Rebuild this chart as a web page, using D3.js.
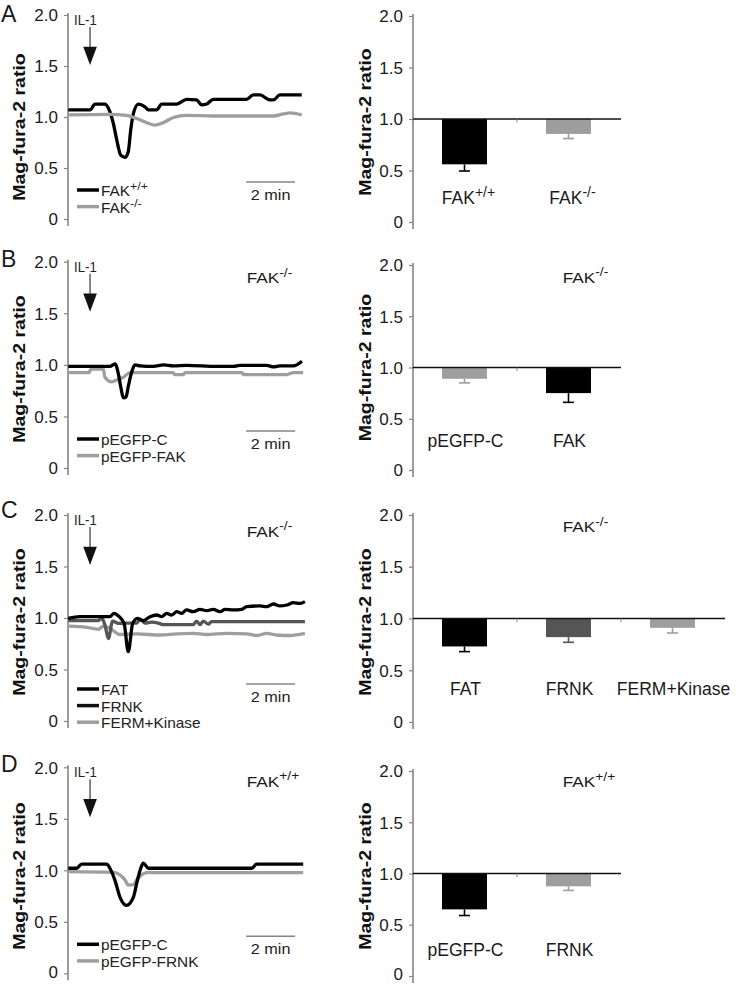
<!DOCTYPE html>
<html><head><meta charset="utf-8">
<script src="https://cdn.jsdelivr.net/npm/d3@7/dist/d3.min.js"></script>
<style>
body{margin:0;background:#fff}
svg{display:block}
</style>
</head><body>
<svg id="c" width="745" height="984"></svg>
<script>
// ================= DATA =================
const panelLetters = ["A", "B", "C", "D"];
const yTickValues = [0, 0.5, 1.0, 1.5, 2.0];
const yTickLabels = ["0", "0.5", "1.0", "1.5", "2.0"];
const yTitle = "Mag-fura-2 ratio";
const stimLabel = "IL-1";
const stimTime = 0.9;            // minutes
const scaleBarLabel = "2 min";
const scaleBarMinutes = [7.27, 9.27];
const genotypeNotes = [null, "FAK^-/-", "FAK^-/-", "FAK^+/+"];

// ---- Panel A traces (time in min, ratio)
const aWtTime  = [0.01,0.9,1.1,1.51,1.71,1.85,1.99,2.15,2.33,2.46,2.56,2.67,2.87,3.14,3.28,3.62,3.82,4.44,4.84,5.25,5.46,5.66,5.93,7.29,7.56,7.84,8.24,8.38,8.65,9.54];
const aWtRatio = [1.07,1.07,1.127,1.127,1.052,0.938,0.775,0.627,0.605,0.66,0.873,1.036,1.127,1.10,1.07,1.07,1.127,1.127,1.173,1.167,1.118,1.127,1.173,1.173,1.216,1.216,1.167,1.167,1.216,1.216];
const aKoTime  = [0.01,1.71,2.39,2.8,3.21,3.55,3.89,4.3,4.84,5.93,8.38,8.79,9.06,9.54];
const aKoRatio = [1.02,1.025,1.015,0.985,0.945,0.92,0.945,0.995,1.015,1.01,1.01,1.03,1.04,1.02];

// ---- Panel B traces
const bCTime  = [0.01,1.71,1.92,2.05,2.15,2.26,2.37,2.46,2.6,2.73,2.94,3.48,3.9,4.3,4.84,6.07,6.75,7.02,8.1,8.4,8.65,9.2,9.55];
const bCRatio = [0.985,0.985,1.01,0.92,0.79,0.68,0.69,0.79,0.93,1.0,0.99,0.985,1.0,0.99,0.995,0.985,0.985,0.995,0.995,0.98,0.99,0.99,1.035];
const bFakTime  = [0.01,0.85,0.95,1.44,1.51,1.78,2.05,2.26,2.53,4.3,4.35,4.71,4.78,7.1,7.16,8.93,9.2,9.6];
const bFakRatio = [0.925,0.925,0.96,0.96,0.88,0.835,0.86,0.88,0.925,0.925,0.906,0.906,0.925,0.925,0.906,0.906,0.925,0.925];

// ---- Panel C traces
const cFatTime  = [0.01,0.49,1.71,1.88,2.09,2.29,2.46,2.64,2.83,3.07,3.35,3.62,3.82,4.03,4.23,4.44,4.64,4.84,5.11,5.39,5.66,5.93,6.2,6.41,6.75,7.09,7.29,7.84,8.11,8.38,8.65,8.93,9.2,9.47,9.67];
const cFatRatio = [0.997,1.013,1.013,1.045,1.013,0.948,0.673,0.948,0.997,0.974,1.013,1.029,1.013,1.045,1.029,1.061,1.045,1.078,1.061,1.084,1.071,1.084,1.061,1.084,1.078,1.084,1.11,1.117,1.11,1.136,1.117,1.126,1.149,1.142,1.159];
const cFrnkTime  = [0.01,1.24,1.37,1.51,1.65,1.82,2.06,2.39,2.8,2.94,3.14,3.42,3.69,3.9,5.11,5.25,5.39,5.52,5.73,5.86,6.07,9.67];
const cFrnkRatio = [0.974,0.974,1.0,0.93,0.80,0.97,0.948,0.95,0.95,0.987,0.95,0.96,0.95,0.935,0.935,0.97,0.935,0.97,0.94,0.965,0.965,0.965];
const cFermTime  = [0.01,0.76,1.24,1.44,1.71,2.12,2.8,3.76,4.44,5.11,5.66,6.48,7.29,7.7,8.11,8.52,9.06,9.67];
const cFermRatio = [0.922,0.91,0.89,0.92,0.90,0.84,0.845,0.835,0.845,0.85,0.84,0.85,0.845,0.83,0.85,0.835,0.83,0.85];

// ---- Panel D traces
const dCTime  = [0.01,0.35,0.56,1.58,1.71,1.92,2.12,2.39,2.67,2.83,2.97,3.07,3.28,7.5,7.7,9.6];
const dCRatio = [1.02,1.02,1.06,1.06,1.02,0.9,0.74,0.66,0.74,0.9,1.02,1.07,1.02,1.02,1.06,1.06];
const dFrnkTime  = [0.01,1.85,2.12,2.33,2.46,2.67,2.8,3.0,3.21,9.6];
const dFrnkRatio = [0.987,0.98,0.955,0.906,0.857,0.86,0.906,0.955,0.977,0.977];

// ---- Bar charts: categories, means, lower error bound
const aCategories = ["FAK^+/+", "FAK^-/-"];
const aMeans = [0.56, 0.855];
const aLower = [0.495, 0.81];
const bCategories = ["pEGFP-C", "FAK"];
const bMeans = [0.89, 0.75];
const bLower = [0.85, 0.66];
const cCategories = ["FAT", "FRNK", "FERM+Kinase"];
const cMeans = [0.73, 0.82, 0.91];
const cLower = [0.68, 0.77, 0.86];
const dCategories = ["pEGFP-C", "FRNK"];
const dMeans = [0.65, 0.875];
const dLower = [0.59, 0.835];

// ================= STYLE / LAYOUT =================
const BLACK = "#000", GRAY = "#9e9e9e", DARK = "#555", AXIS = "#858585", TXT = "#1a1a1a";
const FONT = '"Liberation Sans", Arial, Helvetica, sans-serif';

const panels = [
  { traces: [[aWtTime, aWtRatio, BLACK], [aKoTime, aKoRatio, GRAY]],
    legend: [["FAK^+/+", BLACK], ["FAK^-/-", GRAY]],
    cats: aCategories, means: aMeans, lower: aLower, colors: [BLACK, GRAY] },
  { traces: [[bFakTime, bFakRatio, GRAY], [bCTime, bCRatio, BLACK]],
    legend: [["pEGFP-C", BLACK], ["pEGFP-FAK", GRAY]],
    cats: bCategories, means: bMeans, lower: bLower, colors: [GRAY, BLACK] },
  { traces: [[cFermTime, cFermRatio, GRAY], [cFrnkTime, cFrnkRatio, DARK], [cFatTime, cFatRatio, BLACK]],
    legend: [["FAT", BLACK], ["FRNK", "#111"], ["FERM+Kinase", GRAY]],
    cats: cCategories, means: cMeans, lower: cLower, colors: [BLACK, DARK, GRAY] },
  { traces: [[dFrnkTime, dFrnkRatio, GRAY], [dCTime, dCRatio, BLACK]],
    legend: [["pEGFP-C", BLACK], ["pEGFP-FRNK", GRAY]],
    cats: dCategories, means: dMeans, lower: dLower, colors: [BLACK, GRAY] }
];

const rows = [
  { top: 15,    bot: 219,   rtop: 16,  rbot: 222, letterY: 22,  labC: 127, rlabC: 122, catY: 204, noteL: 0,     noteR: 0 },
  { top: 261.7, bot: 468,   rtop: 265, rbot: 470, letterY: 267, labC: 369, rlabC: 367.5, catY: 446.7, noteL: 283.3, noteR: 282.7 },
  { top: 515,   bot: 721,   rtop: 515, rbot: 722, letterY: 518, labC: 622, rlabC: 622, catY: 695, noteL: 536.7, noteR: 532.3 },
  { top: 767.3, bot: 973.3, rtop: 771, rbot: 976, letterY: 772, labC: 876, rlabC: 876, catY: 955.7, noteL: 786.7, noteR: 787.3 }
];

const LX = 68, RX = 413, BAND = 104;

const svg = d3.select("#c");

function txt(g, str, x, y, o) {
  o = o || {};
  const size = o.size || 14, sx = o.sx || 1;
  const rot = o.rotate ? " rotate(-90)" : "";
  const t = g.append("text")
    .attr("transform", `translate(${x},${y})${rot} scale(${sx},1)`)
    .attr("font-family", FONT)
    .attr("font-size", size)
    .attr("font-weight", o.bold ? "bold" : "normal")
    .attr("fill", o.fill || TXT)
    .attr("text-anchor", o.anchor || "start");
  const parts = str.split("^");
  t.append("tspan").text(parts[0]);
  if (parts.length > 1) {
    t.append("tspan").attr("font-size", size * 0.8).attr("dy", -size * 0.42).text(parts[1]);
  }
  return t;
}

function yAxis(g, y, x, top, bot) {
  g.append("line").attr("x1", x).attr("x2", x).attr("y1", top - 2).attr("y2", Math.min(bot + 7, 983))
    .attr("stroke", AXIS).attr("stroke-width", 1.6);
  const ax = d3.axisLeft(y).tickValues(yTickValues).tickSize(4).tickFormat((d, i) => yTickLabels[i]);
  const a = g.append("g").attr("transform", `translate(${x},0)`).call(ax);
  a.select(".domain").remove();
  a.selectAll(".tick line").attr("stroke", AXIS).attr("stroke-width", 1.2);
  a.selectAll(".tick text").attr("font-family", FONT).attr("font-size", 17).attr("fill", TXT)
    .attr("x", -10).attr("dy", d => (y(d) > 970 ? "0.22em" : "0.34em"));
}

panels.forEach((p, i) => {
  const r = rows[i];
  const g = svg.append("g");

  // panel letter
  txt(g, panelLetters[i], 1, r.letterY, { size: 23 });

  // ---------- left: traces ----------
  const x = d3.scaleLinear().domain([0, 9.7]).range([LX, LX + 9.7 * 24.5]);
  const y = d3.scaleLinear().domain([0, 2]).range([r.bot, r.top]);
  yAxis(g, y, LX, r.top, r.bot);
  txt(g, yTitle, 25, r.labC, { size: 17, bold: true, sx: 1.15, rotate: true, anchor: "middle", fill: "#111" });

  const line = d3.line().x(d => x(d[0])).y(d => y(d[1])).curve(d3.curveMonotoneX);
  p.traces.forEach(([ts, vs, col]) => {
    g.append("path").datum(ts.map((t, k) => [t, vs[k]]))
      .attr("d", line).attr("fill", "none").attr("stroke", col)
      .attr("stroke-width", 3.3).attr("stroke-linejoin", "round").attr("stroke-linecap", "butt");
  });

  // stimulus arrow
  const sx0 = x(stimTime);
  txt(g, stimLabel, sx0 - 16, r.top + 10, { size: 14, sx: 0.94, fill: "#222" });
  g.append("line").attr("x1", sx0).attr("x2", sx0).attr("y1", r.top + 12).attr("y2", r.top + 33)
    .attr("stroke", "#333").attr("stroke-width", 1.2);
  g.append("path").attr("d", `M${sx0 - 6.8},${r.top + 31.7}L${sx0 + 6.8},${r.top + 31.7}L${sx0},${r.top + 50}Z`)
    .attr("fill", "#111");

  // legend
  p.legend.forEach(([lab, col], k) => {
    const ly = r.bot - (p.legend.length === 3 ? 32 : 29) + k * 16.6;
    g.append("line").attr("x1", 77).attr("x2", 99).attr("y1", ly).attr("y2", ly)
      .attr("stroke", col).attr("stroke-width", 3.5);
    txt(g, lab, 101, ly + 6, { size: 14, sx: 1.1, fill: "#222" });
  });

  // scale bar
  const sbY = r.bot - 37;
  g.append("line").attr("x1", x(scaleBarMinutes[0])).attr("x2", x(scaleBarMinutes[1]))
    .attr("y1", sbY).attr("y2", sbY).attr("stroke", AXIS).attr("stroke-width", 1.5);
  txt(g, scaleBarLabel, (x(scaleBarMinutes[0]) + x(scaleBarMinutes[1])) / 2, r.bot - 19.5,
      { size: 14.5, sx: 1.12, anchor: "middle", fill: "#222" });

  if (genotypeNotes[i]) txt(g, genotypeNotes[i], 246.7, r.noteL, { size: 15, sx: 1.15 });

  // ---------- right: bars ----------
  const yr = d3.scaleLinear().domain([0, 2]).range([r.rbot, r.rtop]);
  const xb = d3.scaleBand().domain(p.cats).range([RX, RX + BAND * p.cats.length]).paddingInner(0).paddingOuter(0);
  yAxis(g, yr, RX, r.rtop, r.rbot);
  txt(g, yTitle, 371, r.rlabC, { size: 17, bold: true, sx: 1.15, rotate: true, anchor: "middle", fill: "#111" });

  const bw = 45;
  p.cats.forEach((c, k) => {
    const cx = xb(c) + xb.bandwidth() / 2 - 0.5;
    const col = p.colors[k];
    g.append("rect").attr("x", cx - bw / 2).attr("y", yr(1)).attr("width", bw)
      .attr("height", yr(p.means[k]) - yr(1)).attr("fill", col);
    g.append("line").attr("x1", cx).attr("x2", cx).attr("y1", yr(p.means[k])).attr("y2", yr(p.lower[k]))
      .attr("stroke", col).attr("stroke-width", 1.6);
    g.append("line").attr("x1", cx - 5.5).attr("x2", cx + 5.5).attr("y1", yr(p.lower[k])).attr("y2", yr(p.lower[k]))
      .attr("stroke", col).attr("stroke-width", 1.6);
    txt(g, c, cx + (c.includes("^") ? 4 : 1), r.catY, { size: 17.5, anchor: "middle" });
  });
  // baseline at 1.0 and category boundary ticks
  g.append("line").attr("x1", RX).attr("x2", RX + BAND * p.cats.length).attr("y1", yr(1)).attr("y2", yr(1))
    .attr("stroke", "#111").attr("stroke-width", 1.4);
  p.cats.slice(1).forEach(c => {
    g.append("line").attr("x1", xb(c)).attr("x2", xb(c)).attr("y1", yr(1)).attr("y2", yr(1) + 3.5)
      .attr("stroke", AXIS).attr("stroke-width", 1);
  });

  if (genotypeNotes[i]) txt(g, genotypeNotes[i], 562.7, r.noteR, { size: 15, sx: 1.15 });
});
</script>
</body></html>
